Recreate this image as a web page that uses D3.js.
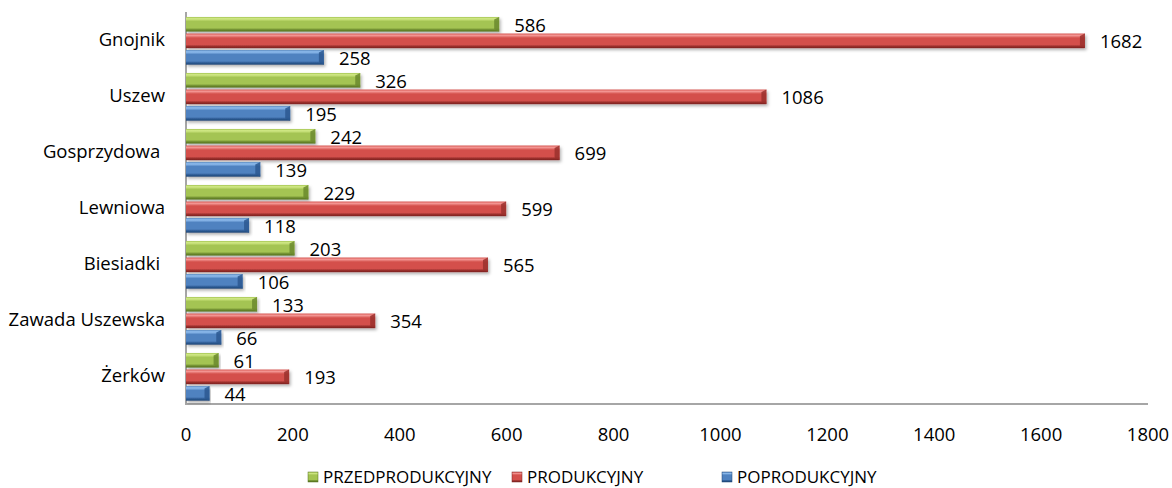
<!DOCTYPE html>
<html>
<head>
<meta charset="utf-8">
<script src="https://cdn.jsdelivr.net/npm/d3@7"></script>
<style>
  body { margin: 0; background: #fff; }
  text { font-family: "Open Sans", sans-serif; fill: #000; }
</style>
</head>
<body>
<svg id="chart"></svg>
<script>
const width = 1172, height = 488;

// data
const categories = ["Gnojnik", "Uszew", "Gosprzydowa ", "Lewniowa", "Biesiadki ", "Zawada Uszewska", "Żerków"];
const series = ["PRZEDPRODUKCYJNY", "PRODUKCYJNY", "POPRODUKCYJNY"];
const przedprodukcyjny = [586, 326, 242, 229, 203, 133, 61];
const produkcyjny = [1682, 1086, 699, 599, 565, 354, 193];
const poprodukcyjny = [258, 195, 139, 118, 106, 66, 44];
const xTicks = [0, 200, 400, 600, 800, 1000, 1200, 1400, 1600, 1800];

const values = [przedprodukcyjny, produkcyjny, poprodukcyjny];
const colors = {
    PRZEDPRODUKCYJNY: { light: "#d3ea88", mid: "#a4c452", dark: "#6b8a2e", edge: "#56721f" },
    PRODUKCYJNY: { light: "#f59a97", mid: "#d4504c", dark: "#9a302d", edge: "#7c2220" },
    POPRODUKCYJNY: { light: "#93c0f0", mid: "#4f82c0", dark: "#2b5890", edge: "#1f4575" }
};

const svg = d3.select("#chart")
    .attr("width", width)
    .attr("height", height);

const defs = svg.append("defs");

// gradients for the bevelled bars
series.forEach((s, i) => {
    const c = colors[s];
    const g = defs.append("linearGradient")
        .attr("id", "grad" + i)
        .attr("x1", 0).attr("y1", 0).attr("x2", 0).attr("y2", 1);
    g.append("stop").attr("offset", "0%").attr("stop-color", c.mid);
    g.append("stop").attr("offset", "12%").attr("stop-color", c.light);
    g.append("stop").attr("offset", "30%").attr("stop-color", c.mid);
    g.append("stop").attr("offset", "75%").attr("stop-color", c.mid);
    g.append("stop").attr("offset", "88%").attr("stop-color", c.dark);
    g.append("stop").attr("offset", "100%").attr("stop-color", c.edge);
});

const shadow = defs.append("filter").attr("id", "shadow")
    .attr("x", "-5%").attr("y", "-30%").attr("width", "110%").attr("height", "180%");
shadow.append("feDropShadow")
    .attr("dx", 1.5).attr("dy", 2).attr("stdDeviation", 1.5)
    .attr("flood-color", "#000").attr("flood-opacity", 0.3);

const x = d3.scaleLinear().domain([0, 1800]).range([186, 1148]);
const y = d3.scaleBand().domain(categories).range([12, 404]);
const ySub = d3.scaleBand().domain(series).range([0, y.bandwidth()])
    .paddingInner(0.12).paddingOuter(0.25).align(0.6);

// axes lines
svg.append("line")
    .attr("x1", x(0)).attr("x2", x(1800))
    .attr("y1", y.range()[1]).attr("y2", y.range()[1])
    .attr("stroke", "#a6a6a6").attr("stroke-width", 2);
svg.append("line")
    .attr("x1", x(0)).attr("x2", x(0))
    .attr("y1", y.range()[0]).attr("y2", y.range()[1] + 1)
    .attr("stroke", "#a6a6a6").attr("stroke-width", 2);

// x tick labels
svg.append("g")
    .selectAll("text")
    .data(xTicks)
    .enter().append("text")
    .attr("x", d => x(d))
    .attr("y", 435)
    .attr("dy", ".35em")
    .attr("text-anchor", "middle")
    .attr("font-size", "18.5px")
    .text(d => d);

// category labels
svg.append("g")
    .selectAll("text")
    .data(categories)
    .enter().append("text")
    .attr("x", 165)
    .attr("y", d => y(d) + y.bandwidth() / 2)
    .attr("dy", ".35em")
    .attr("text-anchor", "end")
    .attr("font-size", "18.5px")
    .style("white-space", "pre")
    .text(d => d);

// bars
const rows = [];
categories.forEach((c, ci) => {
    series.forEach((s, si) => {
        rows.push({ cat: c, s: s, si: si, v: values[si][ci] });
    });
});

const bars = svg.append("g")
    .selectAll("g")
    .data(rows)
    .enter().append("g");

bars.append("rect")
    .attr("x", x(0))
    .attr("y", d => y(d.cat) + ySub(d.s))
    .attr("width", d => x(d.v) - x(0))
    .attr("height", ySub.bandwidth())
    .attr("fill", d => "url(#grad" + d.si + ")")
    .attr("filter", "url(#shadow)");

// bevelled end cap
bars.append("path")
    .attr("d", d => {
        const x1 = x(d.v), y0 = y(d.cat) + ySub(d.s), h = ySub.bandwidth();
        const b = Math.min(5, (x1 - x(0)) / 2);
        return `M${x1 - b},${y0 + 2.5}L${x1},${y0}L${x1},${y0 + h}L${x1 - b},${y0 + h - 2.5}Z`;
    })
    .attr("fill", d => colors[d.s].dark)
    .attr("opacity", 0.85);

// value labels
bars.append("text")
    .attr("x", d => x(d.v) + 15)
    .attr("y", d => y(d.cat) + ySub(d.s) + ySub.bandwidth() / 2 + 1)
    .attr("dy", ".35em")
    .attr("font-size", "18.5px")
    .text(d => d.v);

// legend
const legendX = [308, 512, 722];
const legend = svg.append("g")
    .selectAll("g")
    .data(series)
    .enter().append("g")
    .attr("transform", (d, i) => `translate(${legendX[i]},477)`);

legend.append("rect")
    .attr("x", 0).attr("y", -5)
    .attr("width", 10).attr("height", 10)
    .attr("fill", (d, i) => "url(#grad" + i + ")")
    .attr("stroke", d => colors[d].edge)
    .attr("stroke-width", 0.5);

legend.append("text")
    .attr("x", 15)
    .attr("y", 0)
    .attr("dy", ".35em")
    .attr("font-size", "17px")
    .text(d => d);
</script>
</body>
</html>
